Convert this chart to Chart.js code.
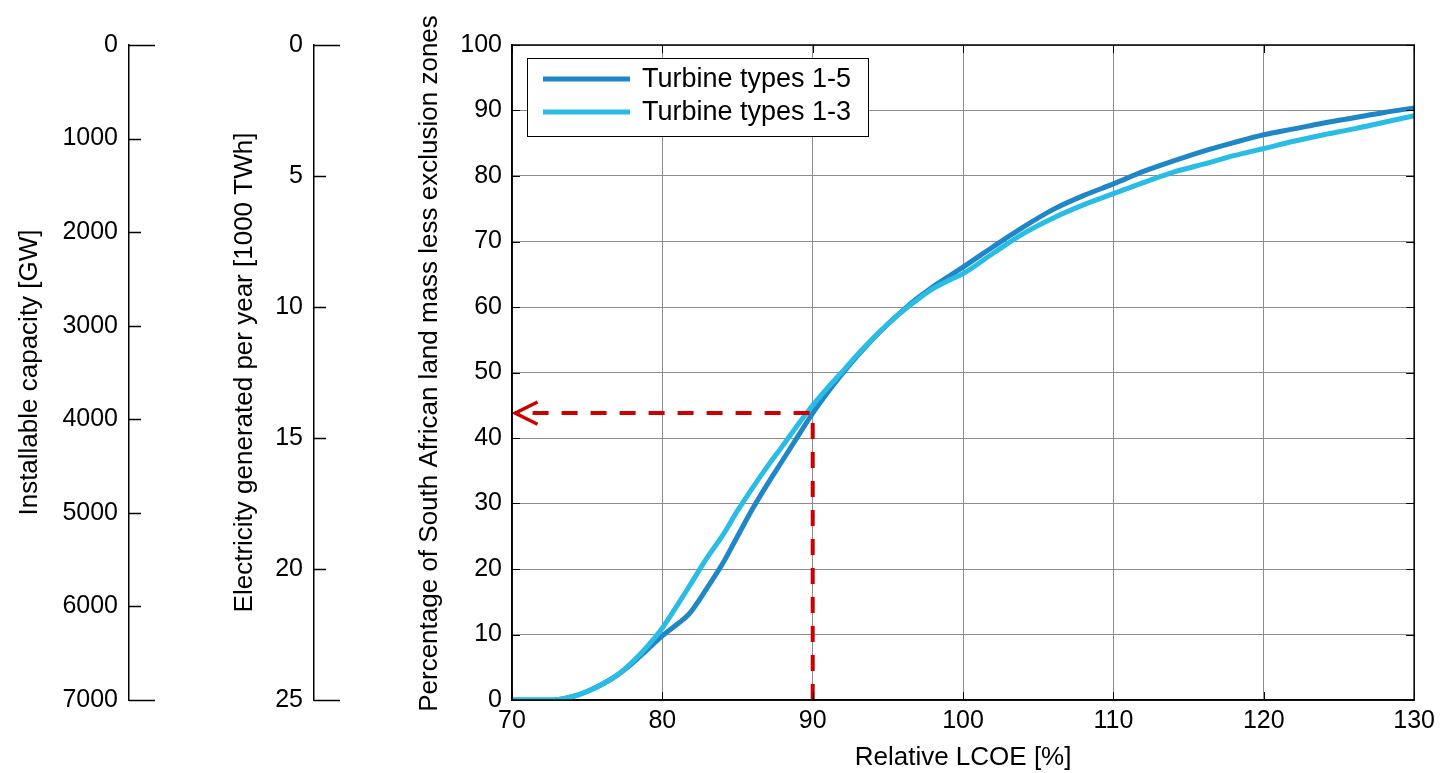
<!DOCTYPE html>
<html>
<head>
<meta charset="utf-8">
<title>Relative LCOE</title>
<script src="https://cdn.jsdelivr.net/npm/chart.js@4.4.1/dist/chart.umd.min.js"></script>
<style>
  html, body { margin: 0; padding: 0; background: #fff; }
  #wrap { width: 1441px; height: 773px; }
</style>
</head>
<body>
<div id="wrap"><canvas id="chart" width="1441" height="773"></canvas></div>
<script>
"use strict";
// values
const lcoe = [70, 71, 72, 73, 74, 75, 76, 77, 78, 79, 80, 81, 81.8, 83, 84, 85, 86, 87, 88, 89, 90, 91, 92, 93, 94, 95, 96, 97, 98, 99, 100,
    102, 104, 106, 108, 110, 112, 114, 116, 118, 120, 122, 124, 126, 128, 130];
const types15 = [0, 0, 0, 0.05, 0.5, 1.3, 2.4, 3.8, 5.6, 7.7, 9.8, 11.6, 13.2, 17.2, 20.8, 25, 29.2, 33, 36.6, 40.2, 43.8, 47, 49.9, 52.6, 55.1, 57.4, 59.5, 61.4, 63.1, 64.6, 66.1,
    69.2, 72.2, 74.9, 77, 78.8, 80.7, 82.3, 83.8, 85.1, 86.3, 87.2, 88.1, 88.9, 89.7, 90.4];
const types13 = [0, 0, 0, 0.05, 0.5, 1.3, 2.4, 3.8, 5.8, 8.2, 11, 14.5, 17.4, 21.8, 25.1, 28.9, 32.4, 35.7, 38.8, 42, 45, 47.7, 50.2, 52.8, 55.2, 57.4, 59.4, 61.2, 62.8, 64, 65.1,
    68.2, 71.2, 73.6, 75.6, 77.3, 79, 80.6, 81.8, 83.1, 84.2, 85.3, 86.3, 87.2, 88.2, 89.2];
const seriesLabels = ["Turbine types 1-5", "Turbine types 1-3"];
// red guide: from LCOE 90 up to the curve, then across to the axis
const guideX = [90, 90, 70.3];
const guideY = [0, 43.8, 43.8];
const arrowX = [71.7, 70.2, 71.7];
const arrowY = [45.5, 43.8, 42.1];
// extra axes
const capacityMax = 7000, capacityStep = 1000;
const energyMax = 25, energyStep = 5;

const FONT = "Arial, 'Liberation Sans', Helvetica, sans-serif";
const tickFont = { family: FONT, size: 25 };
const titleFont = { family: FONT, size: 26 };

function pts(xs, ys) {
    return xs.map((x, i) => ({ x: x, y: ys[i] }));
}
const plain = v => String(v);

// inner ticks, box, legend, main y title, tick marks of the extra axes
const decor = {
    id: "decor",
    afterDraw(chart) {
        const ctx = chart.ctx;
        const a = chart.chartArea;
        const sx = chart.scales.x, sy = chart.scales.y;
        ctx.save();
        ctx.strokeStyle = "#000";
        ctx.lineWidth = 1.5;
        ctx.strokeRect(a.left, a.top, a.right - a.left, a.bottom - a.top);
        ctx.lineWidth = 1;
        ctx.beginPath();
        sx.ticks.forEach(t => {
            const px = Math.round(sx.getPixelForValue(t.value)) + 0.5;
            ctx.moveTo(px, a.bottom); ctx.lineTo(px, a.bottom - 8);
            ctx.moveTo(px, a.top); ctx.lineTo(px, a.top + 8);
        });
        sy.ticks.forEach(t => {
            const py = Math.round(sy.getPixelForValue(t.value)) + 0.5;
            ctx.moveTo(a.left, py); ctx.lineTo(a.left + 8, py);
            ctx.moveTo(a.right, py); ctx.lineTo(a.right - 8, py);
        });
        ctx.stroke();

        ["cap", "elec"].forEach(id => {
            const s = chart.scales[id];
            const x0 = s.right;
            ctx.beginPath();
            ctx.lineWidth = 1.5;
            s.ticks.forEach((t, i) => {
                const py = Math.round(s.getPixelForValue(t.value)) + 0.5;
                const len = (i === 0 || i === s.ticks.length - 1) ? 26 : 12;
                ctx.moveTo(x0, py); ctx.lineTo(x0 + len, py);
            });
            ctx.stroke();
        });

        // main y title (drawn here so it is not squeezed to the axis height)
        ctx.fillStyle = "#000";
        ctx.font = "26px " + FONT;
        ctx.textAlign = "center";
        ctx.textBaseline = "middle";
        ctx.translate(430, (a.top + a.bottom) / 2 - 9);
        ctx.rotate(-Math.PI / 2);
        ctx.fillText("Percentage of South African land mass less exclusion zones", 0, 0);
        ctx.restore();

        // legend
        ctx.save();
        const lx = a.left + 15, ly = a.top + 13, lw = 341, lh = 78;
        ctx.fillStyle = "#fff";
        ctx.fillRect(lx, ly, lw, lh);
        ctx.strokeStyle = "#000";
        ctx.lineWidth = 1;
        ctx.strokeRect(lx + 0.5, ly + 0.5, lw, lh);
        ctx.font = "27px " + FONT;
        ctx.textAlign = "left";
        ctx.textBaseline = "middle";
        [0, 1].forEach(i => {
            const ds = chart.data.datasets[i];
            const yy = ly + 21 + i * 33;
            ctx.strokeStyle = ds.borderColor;
            ctx.lineWidth = 5;
            ctx.beginPath();
            ctx.moveTo(lx + 16, yy); ctx.lineTo(lx + 103, yy);
            ctx.stroke();
            ctx.fillStyle = "#000";
            ctx.fillText(ds.label, lx + 115, yy + 1);
        });
        ctx.restore();
    }
};

new Chart(document.getElementById("chart"), {
    type: "line",
    data: {
        datasets: [
            { label: seriesLabels[0], data: pts(lcoe, types15), borderColor: "#1f87c7", borderWidth: 5, pointRadius: 0, cubicInterpolationMode: "monotone", order: 3 },
            { label: seriesLabels[1], data: pts(lcoe, types13), borderColor: "#29bde6", borderWidth: 5, pointRadius: 0, cubicInterpolationMode: "monotone", order: 2 },
            { label: "guide", data: pts(guideX, guideY), borderColor: "#cc0000", borderWidth: 4, borderDash: [16, 13], pointRadius: 0, tension: 0, order: 1 },
            { label: "arrow", data: pts(arrowX, arrowY), borderColor: "#cc0000", borderWidth: 3.5, pointRadius: 0, tension: 0, order: 1 }
        ]
    },
    options: {
        responsive: false,
        animation: false,
        devicePixelRatio: 1,
        layout: { padding: { top: 45, right: 25, left: 0, bottom: 0 } },
        plugins: { legend: { display: false }, tooltip: { enabled: false } },
        scales: {
            x: {
                type: "linear", position: "bottom", min: 70, max: 130,
                ticks: { stepSize: 10, padding: 6, font: tickFont, color: "#000" },
                grid: { color: "#8c8c8c", lineWidth: 1, drawTicks: false },
                border: { color: "#000", width: 1.5 },
                title: { display: true, text: "Relative LCOE [%]", font: titleFont, color: "#000", padding: { top: 0, bottom: 0 } },
                afterFit: s => { s.height = 73; }
            },
            y: {
                type: "linear", position: "left", min: 0, max: 100, weight: 0,
                ticks: { stepSize: 10, padding: 10, font: tickFont, color: "#000" },
                grid: { color: "#8c8c8c", lineWidth: 1, drawTicks: false },
                border: { color: "#000", width: 1.5 },
                afterFit: s => { s.width = 198; }
            },
            elec: {
                type: "linear", position: "left", min: 0, max: energyMax, reverse: true, weight: 1,
                ticks: { stepSize: energyStep, padding: 11, font: tickFont, color: "#000", callback: plain },
                grid: { display: false, drawTicks: false },
                border: { display: true, color: "#000", width: 1.5 },
                title: { display: true, text: "Electricity generated per year [1000 TWh]", font: titleFont, color: "#000", padding: { top: 100, bottom: 0 } },
                afterFit: s => { s.width = 185; }
            },
            cap: {
                type: "linear", position: "left", min: 0, max: capacityMax, reverse: true, weight: 2,
                ticks: { stepSize: capacityStep, padding: 11, font: tickFont, color: "#000", callback: plain },
                grid: { display: false, drawTicks: false },
                border: { display: true, color: "#000", width: 1.5 },
                title: { display: true, text: "Installable capacity [GW]", font: titleFont, color: "#000", padding: { top: 14, bottom: 0 } },
                afterFit: s => { s.width = 129; }
            }
        }
    },
    plugins: [decor]
});
</script>
</body>
</html>
